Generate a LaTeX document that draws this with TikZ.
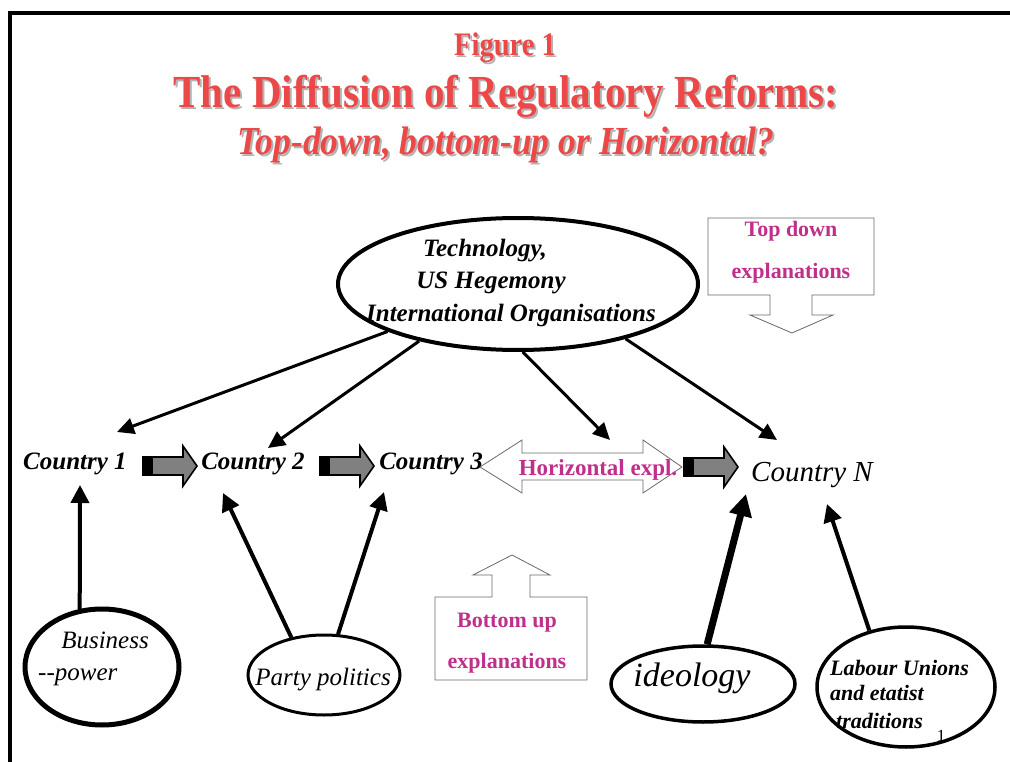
\documentclass[tikz,border=0pt]{standalone}
\usepackage{fontspec}
\setmainfont{Liberation Serif}
\usetikzlibrary{arrows.meta,shapes.geometric}
\definecolor{titlered}{RGB}{236,72,72}
\definecolor{shadowgray}{RGB}{180,180,180}
\definecolor{expmag}{RGB}{192,48,138}
\definecolor{blockgray}{RGB}{128,128,128}
\definecolor{calloutgray}{RGB}{105,105,105}
\newcommand{\setfs}[1]{\fontsize{#1}{#1}\selectfont}
\newcommand{\blockarrow}[2]{%
  \fill[black] (#1,#2-10) rectangle (#1+11,#2+10);
  \draw[line width=1.6pt, fill=blockgray] (#1+10,#2-9) -- (#1+41,#2-9) -- (#1+41,#2-20) -- (#1+55,#2) -- (#1+41,#2+20) -- (#1+41,#2+9) -- (#1+10,#2+9) -- cycle;}
\begin{document}
\begin{tikzpicture}[x=1pt,y=-1pt,
  every node/.style={inner sep=0pt, anchor=base},
  ttl/.style={text=titlered, font=\bfseries},
  ttlsh/.style={text=shadowgray, font=\bfseries},
  cty/.style={font=\setfs{25}\bfseries\itshape},
  ell/.style={ellipse, draw, minimum width=#1},
  techtxt/.style={font=\setfs{25}\bfseries\itshape},
  bottxt/.style={font=\setfs{25}\itshape},
  exptxt/.style={text=expmag, font=\setfs{22}\bfseries},
  callout/.style={draw=calloutgray, line width=0.8pt, fill=white},
  arr/.style={line width=3pt, -{Triangle[length=17pt,width=16pt]}},
  arrb/.style={line width=4pt, -{Triangle[length=18pt,width=18pt]}},
  arrh/.style={line width=7pt, -{Triangle[length=22pt,width=22pt]}}
]
\useasboundingbox (0,0) rectangle (1010,762);
\fill[white] (0,0) rectangle (1010,762);
% frame
\draw[line width=4pt] (1010,13) -- (10,13) -- (10,762);

% title
\node[ttlsh, font=\setfs{28.5}\bfseries] at (507,58) {\scalebox{1}[1.15]{Figure 1}};
\node[ttl, font=\setfs{28.5}\bfseries] (fig) at (505,56) {\scalebox{1}[1.15]{Figure 1}};
\node[ttlsh, font=\setfs{41}\bfseries] at (508,110) {\scalebox{1}[1.12]{The Diffusion of Regulatory Reforms:}};
\node[ttl, font=\setfs{41}\bfseries] (ttl2) at (506,108) {\scalebox{1}[1.12]{The Diffusion of Regulatory Reforms:}};
\node[ttlsh, font=\setfs{35.5}\bfseries\itshape] at (508,157) {\scalebox{1}[1.12]{Top-down, bottom-up or Horizontal?}};
\node[ttl, font=\setfs{35.5}\bfseries\itshape] (ttl3) at (506,155) {\scalebox{1}[1.12]{Top-down, bottom-up or Horizontal?}};

% top-down callout
\draw[callout] (708,218) -- (874,218) -- (874,295) -- (812,295) -- (812,315) -- (833,315) -- (792,333) -- (750,315) -- (770,315) -- (770,295) -- (708,295) -- cycle;
\node[exptxt] (td1) at (791,237) {Top down};
\node[exptxt] (td2) at (791,279) {explanations};

% bottom-up callout
\draw[callout] (435,597) -- (492,597) -- (492,575) -- (473,575) -- (512,555) -- (550,575) -- (530,575) -- (530,597) -- (587,597) -- (587,680) -- (435,680) -- cycle;
\node[exptxt] (bu1) at (507,627) {Bottom up};
\node[exptxt] (bu2) at (507,668) {explanations};

% top ellipse
\node[ell=360pt, line width=4pt, minimum height=132pt, anchor=center] (tech) at (518,284) {};
\node[techtxt] (tech1) at (485,257) {Technology,};
\node[techtxt] (tech2) at (491,289) {US Hegemony};
\node[techtxt] (tech3) at (511,321) {International Organisations};

% countries
\node[cty] (c1) at (75,469) {Country 1};
\node[cty] (c2) at (253,469) {Country 2};
\node[cty] (c3) at (431,469) {Country 3};
\node[font=\setfs{29}\itshape] (cN) at (812,481) {Country N};

% block arrows
\blockarrow{142}{466}
\blockarrow{319}{466}
\blockarrow{683}{467}

% horizontal double arrow
\draw[callout] (480,467) -- (522,440) -- (522,453) -- (643,453) -- (643,440) -- (682,467) -- (643,493) -- (643,480) -- (522,480) -- (522,493) -- cycle;
\node[exptxt, font=\setfs{23}\bfseries] (hz) at (598,475) {Horizontal expl.};

% arrow end points near the countries
\coordinate (t1) at (117,432);
\coordinate (t2) at (268,448);
\coordinate (t3) at (610,440);
\coordinate (t4) at (777,440);
\coordinate (b1) at (80,485);
\coordinate (b2) at (223,493);
\coordinate (b3) at (384,492);
\coordinate (b4) at (746,494);
\coordinate (b5) at (827,504);

\draw[arr] (tech.200) -- (t1);
\draw[arr] (tech.210) -- (t2);
\draw[arr] (tech.274) -- (t3);
\draw[arr] (tech.333) -- (t4);

% bottom ellipses
\node[ell=154pt, line width=5pt, minimum height=116pt, anchor=center] (bus) at (102,667) {};
\node[bottxt] (bus1) at (105,648) {Business};
\node[bottxt, anchor=base west] (bus2) at (38,680) {-{}-power};

\node[ell=152pt, line width=3pt, minimum height=80pt, anchor=center] (party) at (324,675) {};
\node[bottxt] (party1) at (323,685) {Party politics};

\node[ell=184pt, line width=3.5pt, minimum height=76pt, anchor=center] (ideo) at (703,684) {};
\node[font=\setfs{34}\itshape] (ideo1) at (692,686) {ideology};

\node[ell=178pt, line width=3.5pt, minimum height=120pt, anchor=center] (lab) at (906,687) {};
\node[font=\setfs{22}\bfseries\itshape, anchor=base west] (lab1) at (830,675) {Labour Unions};
\node[font=\setfs{22}\bfseries\itshape, anchor=base west] (lab2) at (830,700) {and etatist};
\node[font=\setfs{22}\bfseries\itshape, anchor=base west] (lab3) at (836,728) {traditions};
\node[font=\setfs{17}] (pg) at (941,741) {1};

\draw[arrb] (bus.111) -- (b1);
\draw[arrb] (party.131) -- (b2);
\draw[arrb] (party.71) -- (b3);
\draw[arrh] (ideo.84) -- (b4);
\draw[arrb] (lab.123) -- (b5);
\end{tikzpicture}
\end{document}
